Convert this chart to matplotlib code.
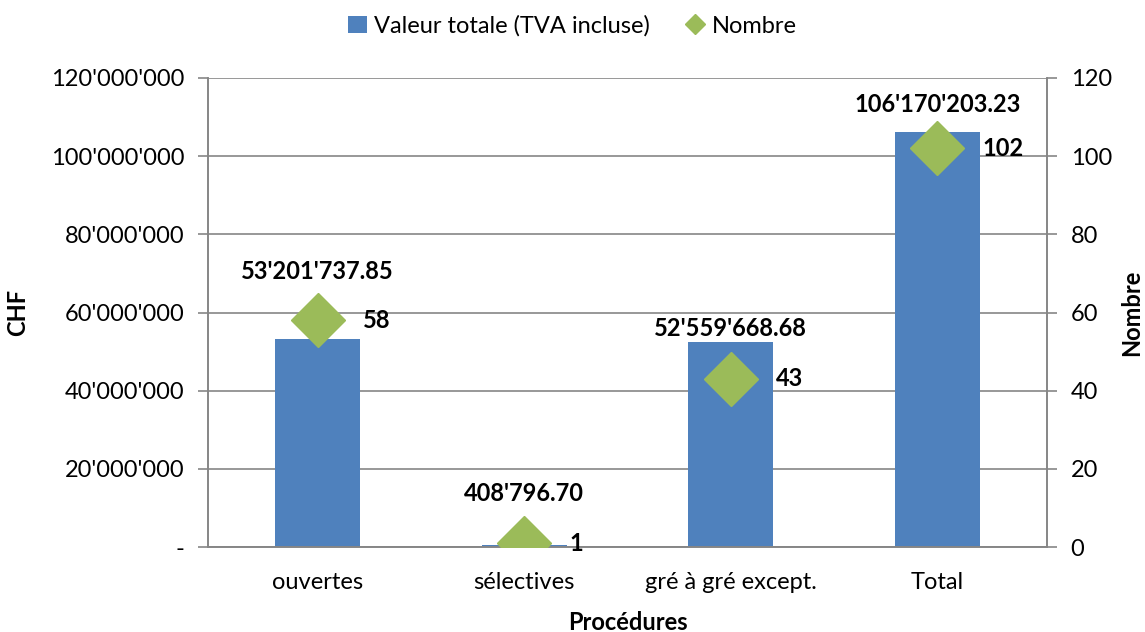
"""Procédures: valeur totale (CHF) et nombre, barres + losanges sur axe secondaire."""
import matplotlib
matplotlib.use("Agg")
import matplotlib.pyplot as plt
from matplotlib.ticker import FuncFormatter

categories = ["ouvertes", "sélectives", "gré à gré except.", "Total"]
valeurs = [53201737.85, 408796.70, 52559668.68, 106170203.23]
nombres = [58, 1, 43, 102]
valeur_labels = ["53'201'737.85", "408'796.70", "52'559'668.68", "106'170'203.23"]

BAR_COLOR = "#4F81BD"
DIAMOND_COLOR = "#9BBB59"
GRID_COLOR = "#868686"

plt.rcParams["font.family"] = ["Lato", "DejaVu Sans"]
plt.rcParams["font.size"] = 17


def chf(v, pos):
    if v == 0:
        return "-"
    return f"{int(v):,}".replace(",", "'")


fig = plt.figure(figsize=(11.45, 6.32), dpi=100)
ax = fig.add_axes([208 / 1145, 1 - 547 / 632, (1047 - 208) / 1145, (547 - 78) / 632])
ax2 = ax.twinx()

x = range(len(categories))
ax.bar(x, valeurs, width=0.41, color=BAR_COLOR, zorder=2, label="Valeur totale (TVA incluse)")
ax.set_ylim(0, 120e6)
ax.set_xlim(-0.53, 3.53)
ax.set_yticks([i * 20e6 for i in range(7)])
ax.yaxis.set_major_formatter(FuncFormatter(chf))
ax.grid(axis="y", color=GRID_COLOR, linewidth=1.2, zorder=0)
ax.set_axisbelow(True)
ax.set_xticks(list(x))
ax.set_xticklabels(categories)
ax.tick_params(axis="x", length=0, pad=18)
ax.tick_params(axis="y", length=7, color=GRID_COLOR, width=1.2, pad=10)
ax.spines["top"].set_visible(False)
ax2.spines["top"].set_visible(False)
for s in ["left", "bottom", "right"]:
    for a in (ax, ax2):
        a.spines[s].set_color(GRID_COLOR)
        a.spines[s].set_linewidth(1.2)

ax2.plot(x, nombres, linestyle="none", marker="D", markersize=28,
         color=DIAMOND_COLOR, zorder=3, label="Nombre")
ax2.set_ylim(0, 120)
ax2.set_yticks(range(0, 121, 20))
ax2.tick_params(axis="y", length=7, color=GRID_COLOR, width=1.2, pad=10)

ax.set_ylabel("CHF", fontweight="bold", va="center")
ax2.set_ylabel("Nombre", fontweight="bold", va="center")
ax.set_xlabel("Procédures", fontweight="bold", va="center")
ax.yaxis.set_label_coords(-0.227, 0.5)
ax2.yaxis.set_label_coords(1.101, 0.5)
ax.xaxis.set_label_coords(0.5, -0.16)

# étiquettes de valeur, placées à la main comme dans l'original
valeur_label_y = [70.4e6, 13.6e6, 55.8e6, 113.1e6]
for i, lab in enumerate(valeur_labels):
    ax.text(i, valeur_label_y[i], lab, ha="center", va="center", fontweight="bold",
            fontsize=17, zorder=5)

for i, n in enumerate(nombres):
    ax2.text(i + 0.22, n, str(n), ha="left", va="center", fontweight="bold",
             fontsize=17, zorder=5)

h1, l1 = ax.get_legend_handles_labels()
h2, l2 = ax2.get_legend_handles_labels()
leg = fig.legend(h1 + h2, l1 + l2, loc="center", bbox_to_anchor=(0.5, 1 - 26 / 632),
                 ncol=2, frameon=False, handlelength=0.8, handletextpad=0.3,
                 columnspacing=1.5, fontsize=17)
for h in leg.legend_handles:
    if hasattr(h, "set_markersize"):
        h.set_markersize(10)

fig.savefig("out.png", dpi=100)
